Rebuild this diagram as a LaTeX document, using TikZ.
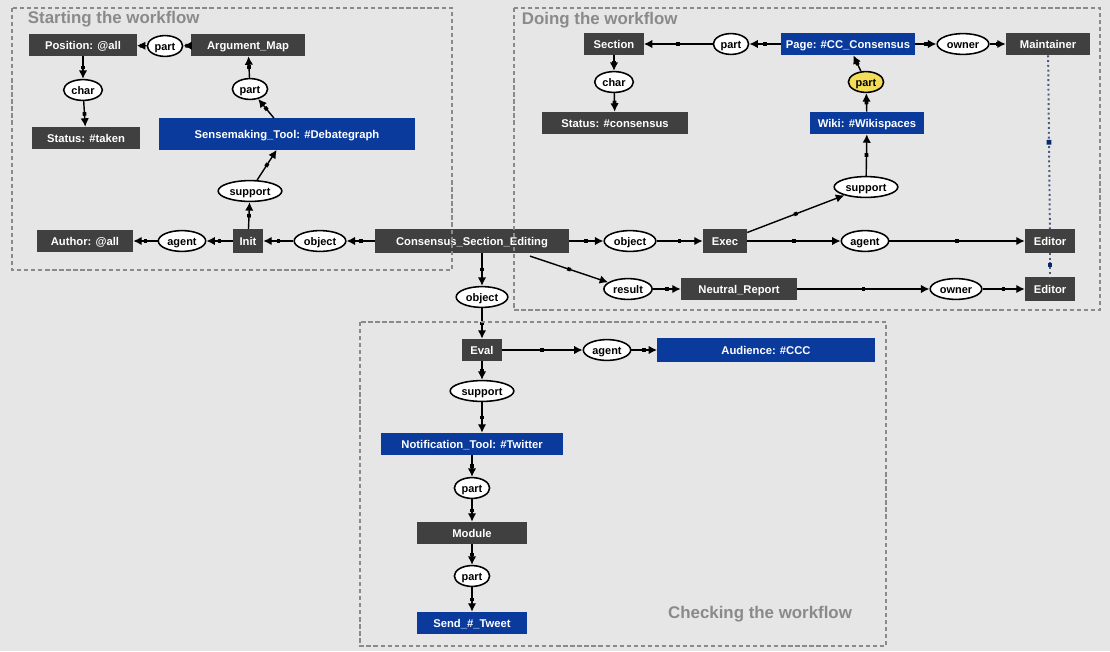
\documentclass[tikz,border=0pt]{standalone}
\usepackage{fontspec}
\setmainfont{Liberation Sans}
\usepackage{tikz}
\usetikzlibrary{arrows.meta, shapes.geometric, decorations.markings}

\definecolor{bggray}{HTML}{E6E6E6}
\definecolor{cgray}{HTML}{404040}
\definecolor{cblue}{HTML}{0A3A9C}
\definecolor{cyellow}{HTML}{F2DC5A}
\definecolor{framegray}{HTML}{8A8A8A}
\definecolor{corefblue}{HTML}{4A5A80}

\begin{document}
\begin{tikzpicture}[
  x=0.025cm, y=-0.025cm,
  concept/.style={fill=#1, text=white, font=\bfseries\fontsize{8}{9}\selectfont,
    minimum height=0.55cm, inner sep=1pt, text height=0.72em, text depth=0.12em},
  concept/.default=cgray,
  rel/.style={ellipse, draw, line width=1.1pt, fill=#1, font=\bfseries\fontsize{7.8}{9}\selectfont,
    inner xsep=1.5pt, inner ysep=0pt, minimum height=0.52cm, text height=0.72em, text depth=0.12em},
  rel/.default=white,
  arr/.style={line width=1pt, -{Latex[length=6pt, width=6pt]}, postaction={decorate},
    decoration={markings, mark=at position 0.5 with {\fill (-1.3pt,-1.3pt) rectangle (1.3pt,1.3pt);}}},
  coref/.style={corefblue, dotted, line width=1.4pt, postaction={decorate},
    decoration={markings, mark=at position 0.5 with {\fill[cblue!70!black] (-1.7pt,-1.7pt) rectangle (1.7pt,1.7pt);}}},
  frame/.style={draw=framegray, line width=1pt, dash pattern=on 3pt off 2pt},
  title/.style={text=framegray, font=\bfseries\fontsize{12}{14}\selectfont},
]
  \fill[bggray] (0,0) rectangle (1110,651);
  \useasboundingbox (0,0) rectangle (1110,651);

  % starting the workflow
  \node[concept, minimum width=2.68cm] (pos) at (83,45) {Position: @all};
  \node[rel] (part1) at (165,46) {part};
  \node[concept, minimum width=2.83cm] (amap) at (248,45) {Argument\_Map};
  \node[rel] (char1) at (83,90) {char};
  \node[concept, minimum width=2.7cm] (taken) at (86,138) {Status: \#taken};
  \node[rel] (part2) at (250,89) {part};
  \node[concept=cblue, minimum width=6.38cm, minimum height=0.78cm] (smt) at (287,134) {Sensemaking\_Tool: \#Debategraph};
  \node[rel] (supp1) at (250,191) {support};
  \node[concept, minimum width=0.75cm, minimum height=0.58cm] (init) at (248,241) {Init};
  \node[rel] (agent1) at (182,241) {agent};
  \node[concept, minimum width=2.4cm] (author) at (85,241) {Author: @all};
  \node[rel] (obj1) at (320,241) {object};
  \node[concept, minimum width=4.83cm, minimum height=0.6cm] (cse) at (472,241) {Consensus\_Section\_Editing};

  % doing the workflow
  \node[concept, minimum width=1.48cm] (sect) at (614,44) {Section};
  \node[rel] (part3) at (731,44) {part};
  \node[concept=cblue, minimum width=3.35cm] (page) at (848,44) {Page: \#CC\_Consensus};
  \node[rel] (owner1) at (963,44) {owner};
  \node[concept, minimum width=2.1cm] (maint) at (1048,44) {Maintainer};
  \node[rel] (char2) at (614,82) {char};
  \node[concept, minimum width=3.63cm] (cons) at (615,123) {Status: \#consensus};
  \node[rel=cyellow] (part4) at (866,82) {part};
  \node[concept=cblue, minimum width=2.85cm] (wiki) at (867,123) {Wiki: \#Wikispaces};
  \node[rel] (supp2) at (866,187) {support};
  \node[rel] (obj2) at (630,241) {object};
  \node[concept, minimum width=1.1cm, minimum height=0.58cm] (exec) at (725,241) {Exec};
  \node[rel] (agent2) at (865,241) {agent};
  \node[concept, minimum width=1.25cm, minimum height=0.58cm] (editor1) at (1050,241) {Editor};
  \node[rel] (res) at (628,289) {result};
  \node[concept, minimum width=2.9cm] (nrep) at (739,289) {Neutral\_Report};
  \node[rel] (owner2) at (956,289) {owner};
  \node[concept, minimum width=1.25cm, minimum height=0.58cm] (editor2) at (1050,289) {Editor};

  % checking the workflow
  \node[rel] (obj3) at (482,297) {object};
  \node[concept, minimum width=0.98cm] (eval) at (482,350) {Eval};
  \node[rel] (agent3) at (607,350) {agent};
  \node[concept=cblue, minimum width=5.43cm, minimum height=0.6cm] (aud) at (766,350) {Audience: \#CCC};
  \node[rel] (supp3) at (482,391) {support};
  \node[concept=cblue, minimum width=4.55cm] (notif) at (472,444) {Notification\_Tool: \#Twitter};
  \node[rel] (part5) at (472,488) {part};
  \node[concept, minimum width=2.73cm] (module) at (472,533) {Module};
  \node[rel] (part6) at (472,576) {part};
  \node[concept=cblue, minimum width=2.73cm] (tweet) at (472,623) {Send\_\#\_Tweet};

  % edges
  \draw[arr] (amap) -- (part1);
  \draw[arr] (part1) -- (pos);
  \draw[arr] (pos) -- (char1);
  \draw[arr] (char1) -- (taken);
  \draw[arr] (smt) -- (part2);
  \draw[arr] (part2) -- (amap);
  \draw[arr] (init) -- (supp1);
  \draw[arr] (supp1) -- (smt);
  \draw[arr] (init) -- (agent1);
  \draw[arr] (agent1) -- (author);
  \draw[arr] (cse) -- (obj1);
  \draw[arr] (obj1) -- (init);

  \draw[arr] (page) -- (part3);
  \draw[arr] (part3) -- (sect);
  \draw[arr] (page) -- (owner1);
  \draw[arr] (owner1) -- (maint);
  \draw[arr] (sect) -- (char2);
  \draw[arr] (char2) -- (cons);
  \draw[arr] (wiki) -- (part4);
  \draw[arr] (part4) -- (page);
  \draw[arr] (exec) -- (supp2);
  \draw[arr] (supp2) -- (wiki);
  \draw[arr] (cse) -- (obj2);
  \draw[arr] (obj2) -- (exec);
  \draw[arr] (exec) -- (agent2);
  \draw[arr] (agent2) -- (editor1);
  \draw[arr] ([xshift=1.45cm, yshift=-2pt]cse.south) -- (res);
  \draw[arr] (res) -- (nrep);
  \draw[arr] (nrep) -- (owner2);
  \draw[arr] (owner2) -- (editor2);
  \draw[coref] (maint) -- (editor1);
  \draw[coref] (editor1) -- (editor2);

  \draw[arr] (cse.south -| obj3) -- (obj3);
  \draw[arr] (obj3) -- (eval);
  \draw[arr] (eval) -- (agent3);
  \draw[arr] (agent3) -- (aud);
  \draw[arr] (eval) -- (supp3);
  \draw[arr] (supp3) -- (supp3 |- notif.north);
  \draw[arr] (notif) -- (part5);
  \draw[arr] (part5) -- (module);
  \draw[arr] (module) -- (part6);
  \draw[arr] (part6) -- (tweet);

  % frames
  \draw[frame] (12,8) rectangle (452,270);
  \draw[frame] (514,8) rectangle (1100,310);
  \draw[frame] (360,322) rectangle (886,646);
  \node[title, anchor=west] (t1) at (23,19) {Starting the workflow};
  \node[title, anchor=west] (t2) at (517,20) {Doing the workflow};
  \node[title] (t3) at (760,614) {Checking the workflow};
\end{tikzpicture}
\end{document}
